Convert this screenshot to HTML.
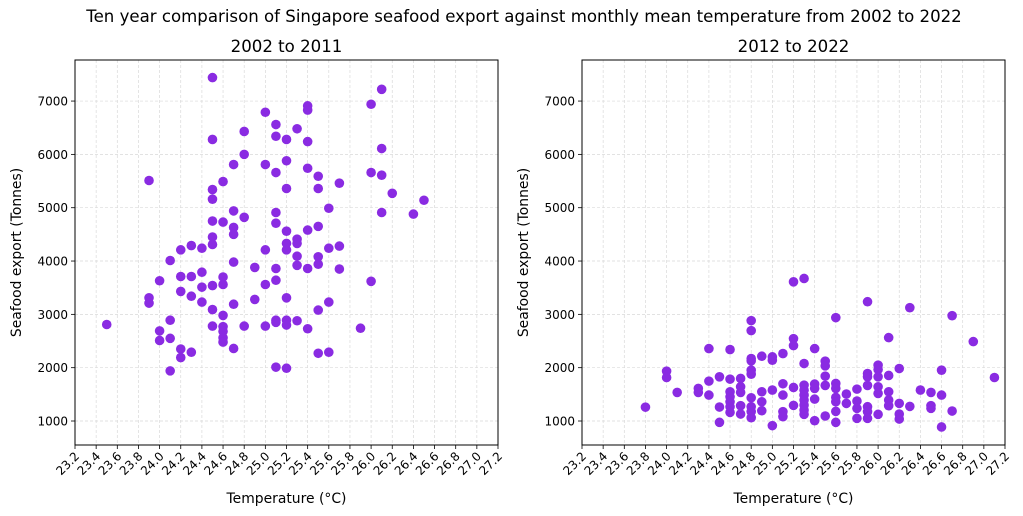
<!DOCTYPE html>
<html><head><meta charset="utf-8">
<style>
html,body{margin:0;padding:0;background:#fff;}
svg{display:block;font-family:"DejaVu Sans","Liberation Sans",sans-serif;}
</style></head>
<body>
<svg id="chart" width="1023" height="516" viewBox="0 0 1023 516" xmlns="http://www.w3.org/2000/svg">
<text x="524" y="22" text-anchor="middle" font-size="16.6" fill="#000">Ten year comparison of Singapore seafood export against monthly mean temperature from 2002 to 2022</text>
</svg>
<script>
const xTicks = [23.2,23.4,23.6,23.8,24.0,24.2,24.4,24.6,24.8,25.0,25.2,25.4,25.6,25.8,26.0,26.2,26.4,26.6,26.8,27.0,27.2];
const yTicks = [1000,2000,3000,4000,5000,6000,7000];
const panelTitles = ["2002 to 2011","2012 to 2022"];
const tempA = [23.5,23.9,23.9,23.9,24.0,24.0,24.0,24.1,24.1,24.1,24.1,24.2,24.2,24.2,24.2,24.2,24.3,24.3,24.3,24.3,24.4,24.4,24.4,24.4,
24.5,24.5,24.5,24.5,24.5,24.5,24.5,24.5,24.5,24.5,24.6,24.6,24.6,24.6,24.6,24.6,24.6,24.6,24.6,
24.7,24.7,24.7,24.7,24.7,24.7,24.7,24.8,24.8,24.8,24.8,24.9,24.9,25.0,25.0,25.0,25.0,25.0,
25.1,25.1,25.1,25.1,25.1,25.1,25.1,25.1,25.1,25.1,25.2,25.2,25.2,25.2,25.2,25.2,25.2,25.2,25.2,25.2,
25.3,25.3,25.3,25.3,25.3,25.3,25.4,25.4,25.4,25.4,25.4,25.4,25.4,25.5,25.5,25.5,25.5,25.5,25.5,25.5,
25.6,25.6,25.6,25.6,25.7,25.7,25.7,25.9,26.0,26.0,26.0,26.1,26.1,26.1,26.1,26.2,26.4,26.5];
const exportA = [2810,5510,3310,3210,3630,2690,2510,4010,2890,2550,1940,4210,3710,3430,2350,2190,4290,3710,3340,2290,4240,3790,3510,3230,
7440,6280,5340,5160,4750,4450,4310,3540,3090,2780,5490,4730,3700,3560,2980,2770,2680,2560,2480,
5810,4940,4630,4500,3980,3190,2360,6430,6000,4820,2780,3880,3280,6790,5810,4210,3560,2780,
6560,6340,5660,4910,4710,3860,3640,2890,2850,2010,6280,5880,5360,4560,4330,4210,3310,2890,2800,1990,
6480,4410,4330,4090,3920,2880,6910,6830,6240,5740,4580,3860,2730,5590,5360,4650,4080,3940,3080,2270,
4990,4240,3230,2290,5460,4280,3850,2740,6940,5660,3620,7220,6110,5610,4910,5270,4880,5140];
const tempB = [23.8,24.0,24.0,24.1,24.3,24.3,24.4,24.4,24.4,24.5,24.5,24.5,
24.6,24.6,24.6,24.6,24.6,24.6,24.6,24.7,24.7,24.7,24.7,24.7,
24.8,24.8,24.8,24.8,24.8,24.8,24.8,24.8,24.8,24.8,24.9,24.9,24.9,24.9,25.0,25.0,25.0,25.0,
25.1,25.1,25.1,25.1,25.1,25.2,25.2,25.2,25.2,25.2,25.3,25.3,25.3,25.3,25.3,25.3,25.3,25.3,25.3,
25.4,25.4,25.4,25.4,25.4,25.5,25.5,25.5,25.5,25.5,25.6,25.6,25.6,25.6,25.6,25.6,25.6,25.7,25.7,
25.8,25.8,25.8,25.8,25.9,25.9,25.9,25.9,25.9,25.9,25.9,26.0,26.0,26.0,26.0,26.0,26.0,
26.1,26.1,26.1,26.1,26.1,26.2,26.2,26.2,26.2,26.3,26.3,26.4,26.5,26.5,26.5,26.6,26.6,26.6,26.7,26.7,26.9,27.1];
const exportB = [1260,1935,1816,1536,1611,1536,2358,1748,1486,1829,1262,975,
2340,1785,1548,1455,1361,1268,1162,1798,1642,1536,1287,1131,
2882,2695,2171,2128,1953,1878,1436,1268,1175,1062,2215,1548,1361,1193,2203,2140,1580,913,
2265,1698,1486,1175,1081,3610,2545,2414,1629,1293,3673,2078,1673,1580,1486,1393,1299,1206,1125,
2358,1692,1611,1411,1006,2122,2034,1841,1667,1094,2938,1704,1611,1442,1361,1181,975,1505,1330,
1598,1374,1237,1050,3237,1891,1829,1667,1268,1175,1050,2047,1966,1829,1642,1517,1125,
2564,1854,1548,1393,1287,1984,1330,1131,1037,3125,1274,1580,1536,1287,1237,1953,1486,888,2975,1187,2489,1816];

const NS = "http://www.w3.org/2000/svg";
const svg = document.getElementById("chart");
function mk(tag, attrs, parent){ const e=document.createElementNS(NS,tag); for(const k in attrs) e.setAttribute(k,attrs[k]); (parent||svg).appendChild(e); return e; }

const X0=23.2, X1=27.2, Y0=550, Y1=7770;
const plotTop=60, plotBottom=445;
const panels=[{left:75,right:498,temps:tempA,vals:exportA,name:"2002-2011"},{left:582,right:1005,temps:tempB,vals:exportB,name:"2012-2022"}];

panels.forEach((p,pi)=>{
  const g=mk("g",{});
  
  
  const xs=v=>p.left+(v-X0)/(X1-X0)*(p.right-p.left);
  const ys=v=>plotBottom-(v-Y0)/(Y1-Y0)*(plotBottom-plotTop);
  xTicks.forEach(t=>{
    const l=mk("line",{x1:xs(t),x2:xs(t),y1:plotTop,y2:plotBottom,stroke:"#d9d9d9","stroke-width":0.7,"stroke-dasharray":"3,2"},g);
    
    
  });
  yTicks.forEach(t=>{
    const l=mk("line",{x1:p.left,x2:p.right,y1:ys(t),y2:ys(t),stroke:"#d9d9d9","stroke-width":0.7,"stroke-dasharray":"3,2"},g);
    
    
  });
  p.temps.forEach((t,i)=>{
    const c=mk("circle",{cx:xs(t),cy:ys(p.vals[i]),r:4.8,fill:"#8a2be2"},g);
    
    
  });
  const fr=mk("rect",{x:p.left,y:plotTop,width:p.right-p.left,height:plotBottom-plotTop,fill:"none",stroke:"#000","stroke-width":1},g);
  
  
  xTicks.forEach(t=>{
    const x=xs(t);
    mk("line",{x1:x,x2:x,y1:plotBottom,y2:plotBottom+4,stroke:"#000","stroke-width":0.8},g);
    const tx=mk("text",{x:x+5,y:plotBottom+12,"text-anchor":"end","font-size":12,fill:"#000",transform:`rotate(-45 ${x+5} ${plotBottom+12})`},g);
    tx.textContent=t.toFixed(1);
    
    
  });
  yTicks.forEach(t=>{
    const y=ys(t);
    mk("line",{x1:p.left-4,x2:p.left,y1:y,y2:y,stroke:"#000","stroke-width":0.8},g);
    const tx=mk("text",{x:p.left-7,y:y+4.5,"text-anchor":"end","font-size":12,fill:"#000"},g);
    tx.textContent=t;
    
    
  });
  const cx=(p.left+p.right)/2;
  const ti=mk("text",{x:cx,y:52,"text-anchor":"middle","font-size":16.6,fill:"#000"},g);
  ti.textContent=panelTitles[pi];
  
  
  const xt=mk("text",{x:cx,y:503,"text-anchor":"middle","font-size":13.9,fill:"#000"},g);
  xt.textContent="Temperature (°C)";
  
  
  const yx=p.left-54, yy=(plotTop+plotBottom)/2;
  const yt=mk("text",{x:yx,y:yy,"text-anchor":"middle","font-size":13.9,fill:"#000",transform:`rotate(-90 ${yx} ${yy})`},g);
  yt.textContent="Seafood export (Tonnes)";
  
  
});
</script>
</body></html>
